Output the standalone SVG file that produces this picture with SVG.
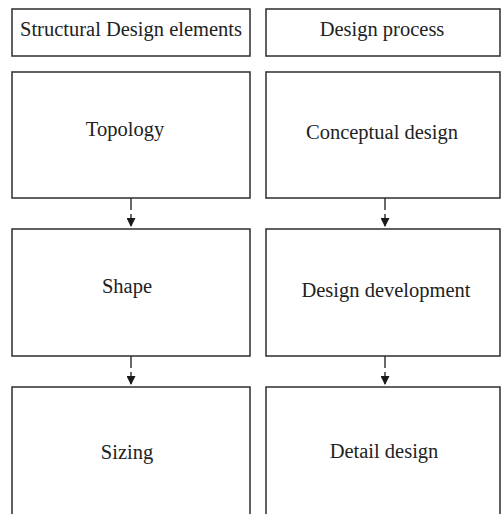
<svg xmlns="http://www.w3.org/2000/svg" width="501" height="514" viewBox="0 0 501 514">
  <style>
    .box { fill: #ffffff; stroke: #3a3a3a; stroke-width: 1.6; }
    .lbl { font-family: "Liberation Serif", "Times New Roman", serif; font-size: 20.5px; fill: #222222; text-anchor: middle; }
    .link { stroke: #2a2a2a; stroke-width: 1.4; fill: none; stroke-dasharray: 12 4; }
  </style>
  <defs>
    <marker id="arrow" viewBox="0 0 10 10" refX="10" refY="5" markerWidth="9" markerHeight="9" markerUnits="userSpaceOnUse" orient="auto">
      <path d="M0,0 L10,5 L0,10 Z" fill="#1a1a1a"/>
    </marker>
  </defs>
  <rect width="501" height="514" fill="#ffffff"/>

  <!-- column headers -->
  <g id="hdr-elements">
    <rect class="box" x="12" y="9" width="238" height="47"/>
    <text class="lbl" x="131" y="36">Structural Design elements</text>
  </g>
  <g id="hdr-process">
    <rect class="box" x="266" y="9" width="234" height="47"/>
    <text class="lbl" x="382" y="36">Design process</text>
  </g>

  <!-- left column -->
  <g id="topology">
    <rect class="box" x="12" y="72" width="238" height="126"/>
    <text class="lbl" x="125" y="136">Topology</text>
  </g>
  <g id="shape">
    <rect class="box" x="12" y="229" width="238" height="127"/>
    <text class="lbl" x="127" y="293">Shape</text>
  </g>
  <g id="sizing">
    <rect class="box" x="12" y="387" width="238" height="140"/>
    <text class="lbl" x="127" y="459">Sizing</text>
  </g>

  <!-- right column -->
  <g id="conceptual">
    <rect class="box" x="266" y="72" width="234" height="126"/>
    <text class="lbl" x="382" y="139">Conceptual design</text>
  </g>
  <g id="development">
    <rect class="box" x="266" y="229" width="234" height="127"/>
    <text class="lbl" x="386" y="297">Design development</text>
  </g>
  <g id="detail">
    <rect class="box" x="266" y="387" width="234" height="140"/>
    <text class="lbl" x="384" y="458">Detail design</text>
  </g>

  <!-- connectors -->
  <g id="connectors">
    <line class="link" x1="131" y1="198" x2="131" y2="227" marker-end="url(#arrow)"/>
    <line class="link" x1="131" y1="356" x2="131" y2="385" marker-end="url(#arrow)"/>
    <line class="link" x1="385" y1="198" x2="385" y2="227" marker-end="url(#arrow)"/>
    <line class="link" x1="385" y1="356" x2="385" y2="385" marker-end="url(#arrow)"/>
  </g>
</svg>
